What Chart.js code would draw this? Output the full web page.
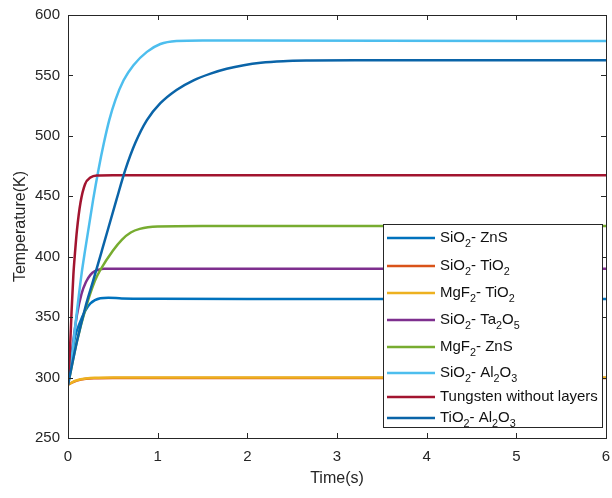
<!DOCTYPE html>
<html>
<head>
<meta charset="utf-8">
<title>Temperature vs time</title>
<script src="https://cdn.jsdelivr.net/npm/chart.js@4/dist/chart.umd.min.js"></script>
<style>
    html, body { margin: 0; padding: 0; background: #fff; }
    #myChart { display: block; }
</style>
</head>
<body>
<canvas id="myChart" width="612" height="498"></canvas>
<script>
// legend labels ("_x" = subscript character) and line colours
const seriesNames = ['SiO_2- ZnS', 'SiO_2- TiO_2', 'MgF_2- TiO_2', 'SiO_2- Ta_2O_5',
    'MgF_2- ZnS', 'SiO_2- Al_2O_3', 'Tungsten without layers', 'TiO_2- Al_2O_3'];
const seriesColors = ['#0072BD', '#D95319', '#EDB120', '#7E2F8E',
    '#77AC30', '#4DBEEE', '#A2142F', '#0A64A8'];

// time (s) / temperature (K) samples for each coating
const tSiO2ZnS = [0, 0.04, 0.08, 0.13, 0.19, 0.25, 0.36, 0.45, 0.6, 1, 2, 6];
const kSiO2ZnS = [294, 317, 334, 345, 355, 361.4, 365.6, 366, 365.5, 365.2, 365, 365];

const tSiO2TiO2 = [0, 0.05, 0.1, 0.2, 0.3, 0.5, 1, 6];
const kSiO2TiO2 = [294, 296, 297.5, 299, 299.5, 299.7, 299.7, 299.7];

const tMgF2TiO2 = [0, 0.05, 0.1, 0.2, 0.3, 0.5, 1, 6];
const kMgF2TiO2 = [294, 296.3, 297.8, 299.2, 299.8, 300, 300, 300];

const tSiO2Ta2O5 = [0, 0.05, 0.1, 0.15, 0.2, 0.25, 0.3, 0.4, 1, 6];
const kSiO2Ta2O5 = [294, 325, 352, 369, 379, 385, 388, 390, 390, 390];

const tMgF2ZnS = [0, 0.1, 0.2, 0.3, 0.36, 0.5, 0.6, 0.7, 0.8, 1, 1.5, 6];
const kMgF2ZnS = [294, 330, 358, 380, 389, 405, 414, 420, 423, 425, 425.5, 425.5];

const tSiO2Al2O3 = [0, 0.05, 0.1, 0.15, 0.19, 0.28, 0.34, 0.4, 0.46, 0.53, 0.62, 0.73, 0.88, 1.03, 1.21, 1.5, 2, 6];
const kSiO2Al2O3 = [294, 322, 355, 385, 405, 447, 472, 494, 513, 530, 546, 558.5, 569.5, 576, 578.5, 579, 578.8, 578.5];

const tTungsten = [0, 0.02, 0.04, 0.06, 0.08, 0.1, 0.14, 0.19, 0.25, 0.32, 0.5, 6];
const kTungsten = [294, 320, 355, 385, 405, 422, 445, 460, 465.5, 467.3, 467.5, 467.5];

const tTiO2Al2O3 = [0, 0.1, 0.2, 0.28, 0.38, 0.54, 0.64, 0.75, 0.88, 1.03, 1.21, 1.4, 1.59, 1.77, 1.96, 2.15, 2.4, 2.7, 3.2, 6];
const kTiO2Al2O3 = [294, 330, 360, 380, 405.6, 447, 472, 494, 513, 527, 538, 546, 551.5, 555.5, 558.5, 560.5, 561.8, 562.3, 562.5, 562.5];

const seriesTimes = [tSiO2ZnS, tSiO2TiO2, tMgF2TiO2, tSiO2Ta2O5, tMgF2ZnS, tSiO2Al2O3, tTungsten, tTiO2Al2O3];
const seriesTemps = [kSiO2ZnS, kSiO2TiO2, kMgF2TiO2, kSiO2Ta2O5, kMgF2ZnS, kSiO2Al2O3, kTungsten, kTiO2Al2O3];

// axis ticks
const xTicks = [0, 1, 2, 3, 4, 5, 6];
const yTicks = [250, 300, 350, 400, 450, 500, 550, 600];

const axisColor = '#262626';
const fontFamily = '"Liberation Sans", Arial, sans-serif';

// build datasets; later series are painted on top
const datasets = seriesNames.map((name, i) => ({
    label: name.replace(/_/g, ''),
    data: seriesTimes[i].map((t, j) => ({ x: t, y: seriesTemps[i][j] })),
    borderColor: seriesColors[i],
    backgroundColor: seriesColors[i],
    borderWidth: 2.5,
    pointRadius: 0,
    cubicInterpolationMode: 'monotone',
    fill: false,
    order: seriesNames.length - i
}));

// draws text where "_x" turns x into a subscript
function drawRichText(ctx, text, x, y, size) {
    const parts = text.split(/_(.)/);
    let cx = x;
    parts.forEach((part, k) => {
        if (!part) return;
        const isSub = k % 2 === 1;
        ctx.font = (isSub ? size * 0.72 : size) + 'px ' + fontFamily;
        ctx.fillText(part, cx, isSub ? y + 6.5 : y);
        cx += ctx.measureText(part).width;
    });
}

// box with inward ticks (matlab style) and the legend
const boxAndLegend = {
    id: 'boxAndLegend',
    afterDatasetsDraw(chart) {
        const { ctx, chartArea: a, scales: { x, y } } = chart;
        ctx.save();
        ctx.strokeStyle = axisColor;
        ctx.lineWidth = 1;
        ctx.strokeRect(a.left + 0.5, a.top + 0.5, a.right - a.left, a.bottom - a.top);

        const tl = 5;
        ctx.beginPath();
        xTicks.forEach(v => {
            const px = Math.round(x.getPixelForValue(v)) + 0.5;
            ctx.moveTo(px, a.bottom); ctx.lineTo(px, a.bottom - tl);
            ctx.moveTo(px, a.top); ctx.lineTo(px, a.top + tl);
        });
        yTicks.forEach(v => {
            const py = Math.round(y.getPixelForValue(v)) + 0.5;
            ctx.moveTo(a.left, py); ctx.lineTo(a.left + tl, py);
            ctx.moveTo(a.right, py); ctx.lineTo(a.right - tl, py);
        });
        ctx.stroke();

        // legend box
        const lx = 383, ly = 224, lw = 219, lh = 203;
        ctx.fillStyle = '#fff';
        ctx.fillRect(lx, ly, lw, lh);
        ctx.strokeRect(lx + 0.5, ly + 0.5, lw, lh);

        const rowY = [14, 42, 69, 96, 123, 149, 173, 194];
        ctx.textBaseline = 'middle';
        ctx.textAlign = 'left';
        seriesNames.forEach((name, i) => {
            const ry = ly + rowY[i];
            ctx.strokeStyle = seriesColors[i];
            ctx.lineWidth = 2.5;
            ctx.beginPath();
            ctx.moveTo(lx + 4, ry);
            ctx.lineTo(lx + 52, ry);
            ctx.stroke();
            ctx.fillStyle = '#111';
            drawRichText(ctx, name, lx + 57, ry, 15);
        });
        ctx.restore();
    }
};

const ctx = document.getElementById('myChart').getContext('2d');
const myChart = new Chart(ctx, {
    type: 'line',
    data: { datasets: datasets },
    options: {
        responsive: false,
        animation: false,
        layout: { padding: { top: 15, right: 6, left: 0, bottom: 0 } },
        scales: {
            x: {
                type: 'linear',
                min: 0,
                max: 6,
                grid: { display: false, drawTicks: false },
                border: { display: false },
                afterBuildTicks: scale => { scale.ticks = xTicks.map(v => ({ value: v })); },
                afterFit: scale => {
                    scale.height = 60;
                    scale.paddingLeft = 0;
                    scale.paddingRight = 0;
                },
                ticks: {
                    padding: 10,
                    color: axisColor,
                    font: { family: fontFamily, size: 15 }
                },
                title: {
                    display: true,
                    text: 'Time(s)',
                    color: axisColor,
                    font: { family: fontFamily, size: 16 },
                    padding: { top: 0, bottom: 10 }
                }
            },
            y: {
                type: 'linear',
                min: 250,
                max: 600,
                grid: { display: false, drawTicks: false },
                border: { display: false },
                afterBuildTicks: scale => { scale.ticks = yTicks.map(v => ({ value: v })); },
                afterFit: scale => {
                    scale.width = 68;
                    scale.paddingTop = 0;
                    scale.paddingBottom = 0;
                },
                ticks: {
                    padding: 8,
                    color: axisColor,
                    font: { family: fontFamily, size: 15 }
                },
                title: {
                    display: true,
                    text: 'Temperature(K)',
                    color: axisColor,
                    font: { family: fontFamily, size: 16 },
                    padding: { top: 11, bottom: 0 }
                }
            }
        },
        plugins: {
            legend: { display: false },
            tooltip: { enabled: false }
        }
    },
    plugins: [boxAndLegend]
});
</script>
</body>
</html>
